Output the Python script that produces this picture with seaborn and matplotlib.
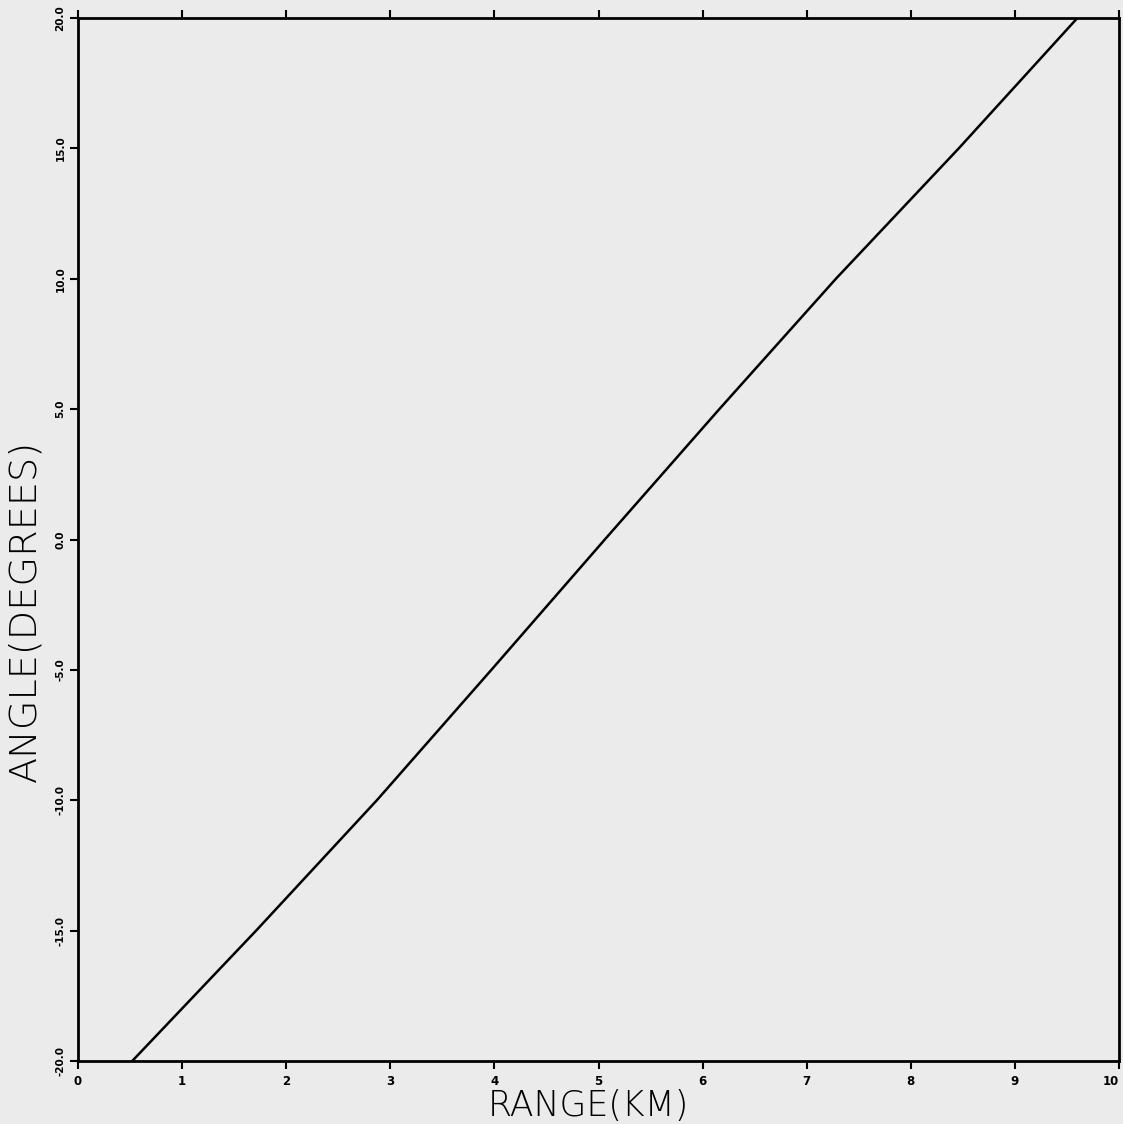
import matplotlib
matplotlib.use("Agg")
import matplotlib.pyplot as plt
import seaborn as sns
import pandas as pd

# Data
range_km = [0.52, 1.71, 2.87, 3.97, 5.06, 6.16, 7.28, 8.46, 9.60]
angle_deg = [-20.0, -15.0, -10.0, -5.0, 0.0, 5.0, 10.0, 15.0, 20.0]
x_ticks = [0, 1, 2, 3, 4, 5, 6, 7, 8, 9, 10]
y_ticks = [-20.0, -15.0, -10.0, -5.0, 0.0, 5.0, 10.0, 15.0, 20.0]

sns.set_style("white")
plt.rcParams['font.family'] = ['DejaVu Sans']

bg = "#ebebeb"
fig = plt.figure(figsize=(11.23, 11.24), dpi=100, facecolor=bg)
ax = fig.add_axes([0.0695, 0.056, 0.927, 0.928])
ax.set_facecolor(bg)

df = pd.DataFrame({"range": range_km, "angle": angle_deg})
sns.lineplot(data=df, x="range", y="angle", sort=False, color="black",
             linewidth=1.8, ax=ax)

ax.set_xlim(0, 10)
ax.set_ylim(-20, 20)
ax.set_xticks(x_ticks)
ax.set_xticklabels([str(t) for t in x_ticks], fontsize=8.5, fontweight="bold")
ax.get_xticklabels()[-1].set_horizontalalignment("right")
ax.set_yticks(y_ticks)
ax.set_yticklabels([f"{t:.1f}" for t in y_ticks], fontsize=7.5, fontweight="bold",
                   rotation=90, va="center")

ax.xaxis.set_ticks_position("both")
ax.tick_params(axis="x", which="both", bottom=True, top=True, direction="out",
               length=6, width=1.5, pad=4, colors="black")
ax.tick_params(axis="y", which="both", left=True, right=False, direction="out",
               length=6, width=1.5, pad=3, colors="black")

for s in ax.spines.values():
    s.set_visible(True)
    s.set_color("black")
    s.set_linewidth(2)

ax.set_xlabel("RANGE(KM)", fontsize=25, fontweight="light", color="black")
ax.set_ylabel("ANGLE(DEGREES)", fontsize=27.5, fontweight="light", color="black")
ax.xaxis.set_label_coords(0.49, -0.027)
ax.yaxis.set_label_coords(-0.034, 0.432)

fig.savefig("out.png", dpi=100, facecolor=bg)
